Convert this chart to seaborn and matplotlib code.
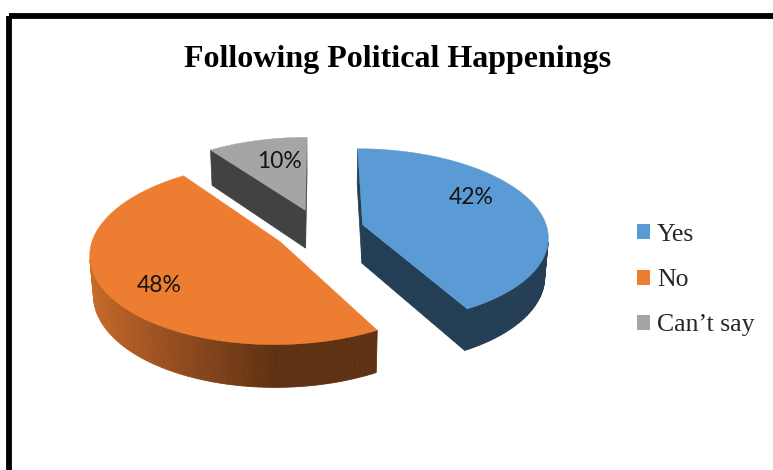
import numpy as np
import matplotlib
matplotlib.use("Agg")
import matplotlib.pyplot as plt
from matplotlib.patches import Polygon, Rectangle, Patch
import seaborn as sns

# ---- data ----
categories = ["Yes", "No", "Can’t say"]
shares = [42, 48, 10]
value_labels = ["42%", "48%", "10%"]
chart_title = "Following Political Happenings"

# ---- styling ----
sns.set_theme(style="white")
palette = sns.color_palette(["#5B9BD5", "#ED7D31", "#A5A5A5"])

W, H = 773, 470
fig = plt.figure(figsize=(W / 100, H / 100), dpi=100)
ax = fig.add_axes([0, 0, 1, 1])
ax.set_xlim(0, W)
ax.set_ylim(H, 0)
ax.axis("off")

# ---- 3-D pie view settings ----
ELEV = np.radians(28)      # camera elevation
DIST = 7.0                 # camera distance (pie radius = 1)
SCALE = 185                # pixels per unit radius at the pie centre
CX, CY = 319, 230          # screen position of the pie centre
THICK = 0.24               # pie thickness
EXPLODE = 0.245            # radial offset of every slice
START = 90                 # first slice starts at 12 o'clock, clockwise
LABEL_R = [0.71, 0.75, 0.66]   # label distance from each slice tip
LABEL_DIR = [28, 218, 104]     # label direction from each slice tip (deg)

cam = np.array([0.0, -DIST * np.cos(ELEV), DIST * np.sin(ELEV)])


def project(P):
    P = np.atleast_2d(P)
    X, Y, Z = P[:, 0], P[:, 1], P[:, 2]
    depth = DIST + Y * np.cos(ELEV) - Z * np.sin(ELEV)
    f = DIST / depth
    sx = CX + SCALE * X * f
    sy = CY - SCALE * (Y * np.sin(ELEV) + Z * np.cos(ELEV)) * f
    return np.column_stack([sx, sy])


def shade(rgb, k):
    return tuple(np.clip(np.array(rgb) * k, 0, 1))


def visible(p, n):
    return np.dot(cam - p, n) > 0


# slice angular spans (counter-clockwise lo..hi), going clockwise from START
fractions = np.array(shares, dtype=float) / np.sum(shares)
slices = []
edge = START
for i, frac in enumerate(fractions):
    hi = edge
    lo = edge - 360 * frac
    edge = lo
    mid = np.radians((lo + hi) / 2)
    offset = EXPLODE * np.array([np.cos(mid), np.sin(mid), 0.0])
    slices.append(dict(i=i, lo=lo, hi=hi, off=offset))

# paint far slices first
slices.sort(key=lambda s: -s["off"][1])

down = np.array([0, 0, -THICK])
for s in slices:
    base = palette[s["i"]]
    o = s["off"]
    lo, hi = np.radians(s["lo"]), np.radians(s["hi"])
    ts = np.linspace(lo, hi, 120)
    rim = np.column_stack([np.cos(ts), np.sin(ts), np.zeros_like(ts)]) + o

    # flat cut faces
    for a, nang in ((lo, lo - np.pi / 2), (hi, hi + np.pi / 2)):
        n = np.array([np.cos(nang), np.sin(nang), 0])
        outer = o + np.array([np.cos(a), np.sin(a), 0])
        if visible((o + outer) / 2 + down / 2, n):
            quad = np.array([o, outer, outer + down, o + down])
            c = shade(base, 0.40)
            ax.add_patch(Polygon(project(quad), closed=True, fc=c, ec=c, lw=0.5))

    # curved outer wall
    for j in range(len(ts) - 1):
        tm = 0.5 * (ts[j] + ts[j + 1])
        n = np.array([np.cos(tm), np.sin(tm), 0])
        p = o + n + down / 2
        if not visible(p, n):
            continue
        quad = np.array([rim[j], rim[j + 1], rim[j + 1] + down, rim[j] + down])
        k = 0.40 + 0.47 * np.clip(-np.cos(tm), 0, 1)
        c = shade(base, k)
        ax.add_patch(Polygon(project(quad), closed=True, fc=c, ec=c, lw=0.6))

    # top face
    top = np.vstack([o, rim])
    ax.add_patch(Polygon(project(top), closed=True, fc=base, ec=base, lw=0.3))

# value labels on the top faces
for s in slices:
    i = s["i"]
    d = np.radians(LABEL_DIR[i])
    p = s["off"] + LABEL_R[i] * np.array([np.cos(d), np.sin(d), 0])
    x, y = project(p)[0]
    ax.text(x, y, value_labels[i], ha="center", va="center",
            fontsize=16.5, family="Lato", color="#141414")

# title
ax.text(398, 67, chart_title, ha="center", va="baseline", fontsize=23,
        fontweight="bold", family="Liberation Serif", color="black")

# legend
handles = [Patch(facecolor=palette[i], edgecolor="none") for i in range(len(categories))]
leg = fig.legend(handles, categories, loc="upper left",
                 bbox_to_anchor=(637 / W, 1 - 224 / H), bbox_transform=fig.transFigure,
                 frameon=False, borderpad=0, borderaxespad=0,
                 handlelength=0.52, handleheight=0.52,
                 handletextpad=0.25, labelspacing=0.9,
                 prop={"family": "Liberation Serif", "size": 18.5})

# outer frame
ax.add_patch(Rectangle((8.5, 16), 1000, 1000, fill=False, lw=4.2, ec="black",
                       clip_on=False))

fig.savefig("out.png", dpi=100, facecolor="white")
